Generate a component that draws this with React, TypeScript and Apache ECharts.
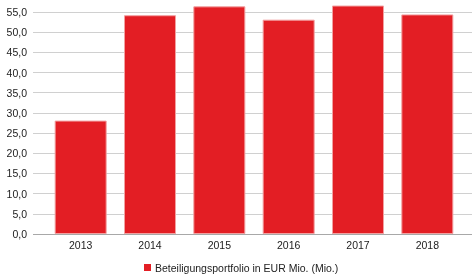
import React, { useEffect, useRef } from "react";
import * as echarts from "echarts";

const categories = ["2013", "2014", "2015", "2016", "2017", "2018"];
const values = [28.1, 54.2, 56.4, 53.1, 56.6, 54.4];
const seriesName = "Beteiligungsportfolio in EUR Mio. (Mio.)";
const yMin = 0;
const yMax = 55;
const yInterval = 5;

export default function App() {
  const ref = useRef<HTMLDivElement>(null);
  useEffect(() => {
    const chart = echarts.init(ref.current!, undefined, { renderer: "svg" });
    const font = "'Liberation Sans', Arial, sans-serif";
    const fs = 10.5;
    chart.setOption({
      animation: false,
      textStyle: { fontFamily: font },
      grid: [
        { left: 33, right: 0, top: 12, bottom: 44 },
        { left: 46, right: 10, top: 12, bottom: 44 },
      ],
      legend: {
        bottom: 5,
        left: 144,
        padding: 0,
        icon: "rect",
        itemWidth: 7,
        itemHeight: 7,
        itemGap: 5,
        itemStyle: { borderWidth: 0 },
        textStyle: { fontSize: fs, color: "#222", fontFamily: font, padding: [0, 0, 0, -1] },
        data: [seriesName],
      },
      xAxis: [
        {
          gridIndex: 0,
          type: "value",
          min: 0,
          max: 1,
          axisLine: { show: false },
          axisTick: { show: false },
          axisLabel: { show: false },
          splitLine: { show: false },
        },
        {
          gridIndex: 1,
          type: "category",
          data: categories,
          axisLine: { show: false },
          axisTick: { show: false },
          axisLabel: { color: "#222", fontSize: fs, margin: 5, fontFamily: font },
        },
      ],
      yAxis: [
        {
          gridIndex: 0,
          type: "value",
          min: yMin,
          max: yMax,
          interval: yInterval,
          axisLine: { show: false },
          axisTick: { show: false },
          axisLabel: {
            color: "#222",
            fontSize: fs,
            margin: 6,
            fontFamily: font,
            formatter: (v: number) => v.toFixed(1).replace(".", ","),
          },
          splitLine: {
            lineStyle: {
              color: ["#a8a8a8", "#d0d0d0", "#d0d0d0", "#d0d0d0", "#d0d0d0", "#d0d0d0", "#d0d0d0", "#d0d0d0", "#d0d0d0", "#d0d0d0", "#d0d0d0", "#d0d0d0"],
              width: 1,
            },
          },
        },
        {
          gridIndex: 1,
          type: "value",
          min: yMin,
          max: yMax,
          interval: yInterval,
          axisLine: { show: false },
          axisTick: { show: false },
          axisLabel: { show: false },
          splitLine: { show: false },
        },
      ],
      series: [
        {
          name: seriesName,
          type: "bar",
          xAxisIndex: 1,
          yAxisIndex: 1,
          data: values,
          clip: false,
          barCategoryGap: "25%",
          itemStyle: { color: "#e31e24", borderColor: "#f2a0a0", borderWidth: 1 },
        },
      ],
    });
    return () => chart.dispose();
  }, []);
  return (
    <div
      ref={ref}
      style={{ position: "fixed", left: 0, top: 0, width: 472, height: 278 }}
    />
  );
}
